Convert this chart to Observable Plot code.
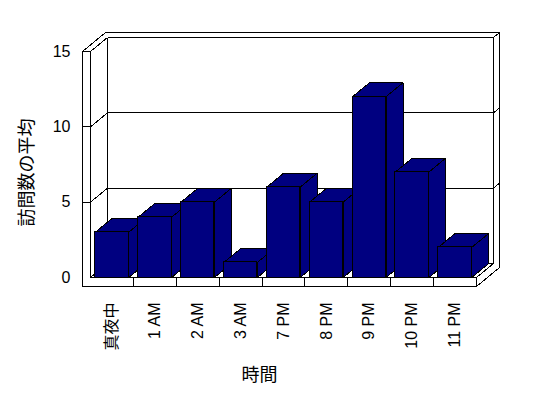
<!DOCTYPE html>
<html>
<head>
<meta charset="utf-8">
<script src="https://cdn.jsdelivr.net/npm/d3@7"></script>
<script src="https://cdn.jsdelivr.net/npm/@observablehq/plot@0.6"></script>
<style>
  html, body { margin: 0; padding: 0; background: #fff; }
</style>
</head>
<body>
<div id="chart"></div>
<script>
// ---- data ----
const categories = ["真夜中", "1 AM", "2 AM", "3 AM", "7 PM", "8 PM", "9 PM", "10 PM", "11 PM"];
const values = [3, 4, 5, 1, 6, 5, 12, 7, 2];
const yTicks = [0, 5, 10, 15];
const yGrid = [5, 10];
const yLabel = "訪問数の平均";
const xLabel = "時間";

// ---- layout (pixels) ----
const W = 548, H = 398;
const mL = 90, mR = 72, mT = 51, mB = 121;
const n = categories.length;
const yMax = 15;
const kx = (W - mL - mR) / n;     // px per category unit
const ky = (H - mT - mB) / yMax;  // px per value unit
const DX = 17 / kx, DY = 14 / ky;         // depth offset
const OX = 23.3 / kx, OY = 19.2 / ky;     // outer slab offset
const wallT = 8 / kx, floorT = 9 / ky;    // wall / floor thickness
const pad = 4.7 / kx;                     // gap beside each bar
const navy = "#000080";
const font = "'Liberation Sans', 'Noto Sans CJK JP', sans-serif";

// ---- frame segments ----
const segs = [];
const S = (x1, y1, x2, y2) => segs.push({x1, y1, x2, y2});
S(DX, DY, n + DX, DY);
S(DX, yMax + DY, n + DX, yMax + DY);
S(DX, DY, DX, yMax + DY);
S(n + DX, DY, n + DX, yMax + DY);
for (const t of yGrid) { S(DX, t + DY, n + DX, t + DY); S(-wallT, t, 0, t); }
for (const t of [0, ...yGrid, yMax]) S(0, t, DX, t + DY);
for (const t of [...yGrid, yMax]) S(n + DX, t + DY, n + OX, t + OY);
S(n, 0, n + DX, DY);
S(-wallT, yMax, -wallT + OX, yMax + OY);
S(-wallT + OX, yMax + OY, n + OX, yMax + OY);
S(n + OX, yMax + OY, n + OX, -floorT + OY);
S(n, -floorT, n + OX, -floorT + OY);
for (let i = 1; i < n; i++) S(i, -floorT, i, 0);

const lShape = [[-wallT, yMax], [0, yMax], [0, 0], [n, 0], [n, -floorT], [-wallT, -floorT]]
  .map(([x, y]) => ({x, y}));

// ---- bar side and top faces ----
const faces = [];
values.forEach((v, i) => {
  const x0 = i + pad, x1 = i + 1 - pad;
  const side = [[x1, 0], [x1 + DX, DY], [x1 + DX, v + DY], [x1, v]];
  const top = [[x0, v], [x0 + DX, v + DY], [x1 + DX, v + DY], [x1, v]];
  side.forEach(([x, y]) => faces.push({id: `s${i}`, x, y}));
  top.forEach(([x, y]) => faces.push({id: `t${i}`, x, y}));
});

const chart = Plot.plot({
  width: W, height: H,
  marginLeft: mL, marginRight: mR, marginTop: mT, marginBottom: mB,
  x: {type: "linear", domain: [0, n]},
  y: {type: "linear", domain: [0, yMax]},
  style: {fontFamily: font, background: "#fff", color: "#000", shapeRendering: "crispEdges"},
  marks: [
    Plot.line(lShape, {x: "x", y: "y", curve: "linear-closed", fill: "#fff", stroke: "#000", strokeWidth: 1}),
    Plot.link(segs, {x1: "x1", y1: "y1", x2: "x2", y2: "y2", stroke: "#000", strokeWidth: 1}),
    Plot.line(faces, {x: "x", y: "y", z: "id", curve: "linear-closed", fill: navy, stroke: "#000", strokeWidth: 1}),
    Plot.rectY(values, {x1: (d, i) => i + pad, x2: (d, i) => i + 1 - pad, y: d => d, fill: navy, stroke: "#000", strokeWidth: 1}),
    Plot.axisY(yTicks, {tickSize: 0, tickPadding: 20, fontSize: 16, label: null}),
    Plot.axisX(d3.range(n).map(i => i + 0.5), {
      tickFormat: d => categories[Math.floor(d)],
      tickRotate: -90, tickSize: 0, tickPadding: 25, fontSize: 16, label: null
    }),
    Plot.text([yLabel], {frameAnchor: "left", textAnchor: "middle", lineAnchor: "middle", dx: -63, dy: 8, rotate: -90, fontSize: 18}),
    Plot.text([xLabel], {frameAnchor: "bottom", textAnchor: "middle", lineAnchor: "middle", dx: -24, dy: 98, fontSize: 18})
  ]
});
document.getElementById("chart").appendChild(chart);
</script>
</body>
</html>
